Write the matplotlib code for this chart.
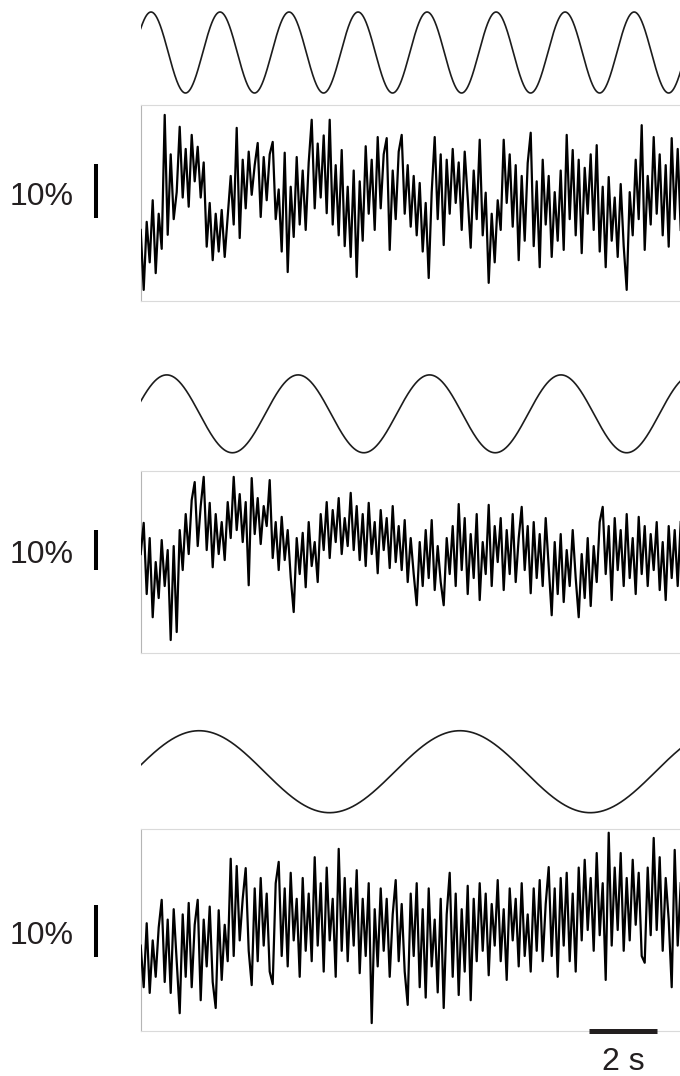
import numpy as np
import matplotlib
matplotlib.use("Agg")
import matplotlib.pyplot as plt

plt.rcParams['font.family'] = ['Liberation Sans', 'DejaVu Sans']

# ---------------- data ----------------
# stimulus sine waves: period (s) and time of first peak (s)
stim_periods = [2.03, 3.865, 7.67]
stim_first_peak = [0.303, 0.765, 1.72]

dt = 3 / 34.0  # spacing of digitised samples (s)

# responses (% change)
trace1 = [-5.0, -16.1, -3.5, -11.0, 0.5, -13.0, -2.0, -8.5, 16.3, -5.9,
          9.0, -3.0, 2.0, 14.1, 1.0, 10.0, -0.7, 12.6, 4.0, 10.4,
          1.0, 7.5, -8.1, 0.0, -10.6, -2.0, -9.0, -1.3, -10.0, -2.5,
          5.0, -4.0, 13.9, -6.5, 8.0, -1.0, 9.5, 1.5, 7.0, 11.1,
          -2.6, 8.5, 0.5, 9.0, 11.3, -3.0, 2.5, -9.0, 9.3, -12.8,
          3.0, -6.3, 8.5, -4.0, 6.0, -5.0, 7.5, 15.4, -1.0, 11.0,
          1.0, 12.5, -1.9, 15.4, -4.0, 7.0, -6.0, 9.8, -8.0, 3.0,
          -10.0, 6.0, -13.7, 4.0, -7.0, 10.5, -2.0, 8.0, -5.0, 12.2,
          -1.0, 9.0, 12.0, -8.7, 6.0, -3.0, 9.5, 12.6, -2.0, 7.0,
          -4.4, 5.0, -6.0, 3.7, -9.0, 0.0, -13.9, 2.0, 12.2, -3.0,
          9.0, -7.8, 8.0, -2.0, 10.0, 0.0, 7.5, -5.0, 9.5, 1.0,
          -8.3, 6.0, -3.0, 11.7, -6.0, 1.9, -14.8, -2.0, -11.0, 0.5,
          -5.0, 11.7, 0.0, 9.0, -4.4, 7.0, -10.6, 5.0, -7.0, 7.4,
          13.0, -8.0, 4.0, -11.9, 8.0, -4.0, 5.0, -10.0, 2.0, -7.0,
          6.0, -8.7, 12.6, -3.0, 9.8, -6.0, 8.0, -9.3, 6.5, -2.0,
          9.0, -5.0, 10.7, -9.0, 3.0, -11.9, 4.8, -7.0, 1.0, -10.0,
          3.5, -8.0, -16.1, 2.0, -6.0, 8.0, -3.0, 14.4, -8.7, 5.0,
          -4.0, 12.2, -2.0, 9.0, -6.0, 7.0, -8.1, 12.0, -3.0, 10.0,
          -5.0]

trace2 = [2.0, 9.8, -8.0, 6.0, -13.8, 0.0, -9.0, 5.5, -6.0, 3.0,
          -19.5, 4.0, -17.5, 8.0, -2.0, 12.0, 2.0, 15.5, 20.0, 4.0,
          14.0, 21.3, 3.0, 14.8, -1.3, 12.0, 2.0, 10.0, 0.5, 15.0,
          6.0, 21.3, 8.0, 17.0, 5.0, 15.0, -5.8, 21.0, 7.0, 16.0,
          4.5, 14.0, 9.0, 20.5, 1.0, 10.0, -2.0, 11.3, 0.5, 8.0,
          -3.8, -12.5, 6.0, -3.0, 7.3, -6.3, 10.0, -1.0, 5.0, -5.0,
          12.0, 3.0, 15.0, 1.0, 13.0, 5.0, 16.0, 2.0, 11.0, 4.0,
          17.3, 3.0, 14.0, 0.5, 12.0, -1.0, 14.8, 2.0, 10.0, -2.8,
          13.0, 3.0, 11.0, -1.5, 14.0, 0.0, 9.0, -2.0, 10.5, -5.0,
          6.0, -3.0, -10.8, 5.0, -6.0, 8.0, -4.0, 10.5, -7.0, 4.0,
          -5.0, -10.8, 6.0, -3.0, 9.0, -6.0, 14.5, -2.0, 11.0, -8.0,
          7.0, -4.0, 12.0, -9.5, 5.0, -3.0, 14.3, -6.0, 9.0, 0.0,
          11.0, -7.0, 8.0, -3.0, 12.0, -5.0, 6.0, 13.8, -2.0, 9.0,
          -7.8, 10.0, -4.0, 7.0, -6.0, 11.0, -1.0, -13.3, 5.0, -8.0,
          7.0, -10.0, 3.0, -6.0, 8.0, -4.0, -13.8, 2.0, -9.0, 6.0,
          -11.0, 4.0, -5.0, 10.0, 13.8, -3.0, 9.0, -9.5, 11.0, -2.0,
          8.0, -6.0, 12.0, -4.0, 6.0, -8.0, 11.3, -3.0, 9.0, -6.0,
          7.0, -2.0, 10.0, -7.0, 5.0, -9.5, 9.0, -4.0, 8.0, -6.0,
          10.0]

trace3 = [-3.0, -11.0, 1.3, -12.1, -2.0, -9.0, 0.5, 5.8, -10.0, 2.0,
          -12.1, 4.0, -6.0, -16.0, 3.0, -9.0, 5.2, -11.0, 1.0, 5.8,
          -13.5, 2.0, -7.0, 4.5, -10.0, -15.0, 3.8, -9.6, 1.0, -6.0,
          13.7, -5.0, 12.3, -2.0, 6.0, 11.9, -4.0, -10.6, 8.0, -6.0,
          10.0, -3.0, 7.0, -8.0, -10.4, 9.0, 13.1, -5.0, 8.0, -7.0,
          11.0, -2.0, 6.0, -9.0, 10.0, -4.0, 7.0, -6.0, 14.0, -3.0,
          9.0, -8.0, 12.0, -2.0, 6.0, -9.0, 15.6, -4.0, 10.0, -6.0,
          8.0, -3.0, 11.5, -8.3, 6.0, -5.0, 9.0, -17.9, 4.0, -7.0,
          8.0, -4.0, 6.0, -9.0, 3.0, 9.6, -6.0, 5.0, -8.0, -14.4,
          7.0, -5.0, 9.0, -11.0, 4.0, -13.0, 8.0, -7.0, 2.0, -12.0,
          6.0, -15.0, 3.0, 11.0, -9.0, 7.0, -12.5, 4.0, -8.0, 8.5,
          -13.5, 6.0, -6.0, 9.0, -4.0, 7.0, -8.7, 5.0, -3.0, 9.6,
          -6.0, 4.0, -9.6, 8.0, -2.0, 6.0, -7.0, 9.0, -5.0, 3.0,
          -8.0, 8.0, -4.0, 9.6, -6.0, 5.0, 12.1, -5.0, 8.0, -9.0,
          10.0, -3.0, 11.0, -6.0, 7.0, -8.0, 12.0, -2.0, 13.5, 0.0,
          10.0, -4.0, 14.8, -1.0, 9.0, -9.6, 18.7, -3.0, 12.0, 0.0,
          14.8, -4.0, 10.0, -2.0, 13.5, 1.0, 11.0, -5.0, -6.3, 12.0,
          -1.0, 17.7, 0.0, 14.0, -4.0, 10.0, 2.0, -11.0, 15.4, -3.0,
          9.0]

traces = [trace1, trace2, trace3]
trace_ylims = [(-18.15, 18.15), (-22.83, 22.83), (-19.42, 19.37)]
scale_pct = 10
scale_s = 2

# ---------------- layout ----------------
W, H = 680, 1076
fig = plt.figure(figsize=(W / 100, H / 100), dpi=100)
fig.patch.set_facecolor('white')

x_left = 140.7 / W
x_width = 559.3 / W
t_max = 559.3 / 34.0

sine_boxes = [(0.9098, 0.0828), (0.5756, 0.0796), (0.2409, 0.0838)]
trace_boxes = [(0.7203, 0.1822), (0.3928, 0.1697), (0.04182, 0.1875)]
bar_bottoms = [-2.8, -2.0, -5.2]
label_baselines = [-0.37, -0.25, -2.7]

t_stim = np.linspace(0, t_max, 2000)
for k in range(3):
    # stimulus
    b, h = sine_boxes[k]
    ax = fig.add_axes([x_left, b, x_width, h])
    ax.plot(t_stim, np.cos(2 * np.pi * (t_stim - stim_first_peak[k]) / stim_periods[k]),
            color='#1c1c1c', lw=1.2)
    ax.set_xlim(0, t_max)
    ax.set_ylim(-1.1, 1.1)
    ax.axis('off')

    # response
    b, h = trace_boxes[k]
    ax = fig.add_axes([x_left, b, x_width, h])
    y = np.asarray(traces[k])
    t = np.arange(len(y)) * dt
    ax.plot(t, y, color='black', lw=1.6, zorder=3)
    ax.set_xlim(0, t_max)
    ax.set_ylim(*trace_ylims[k])
    ax.set_xticks([])
    ax.set_yticks([])
    for s in ['top', 'bottom', 'right']:
        ax.spines[s].set_color('#dadada')
        ax.spines[s].set_linewidth(0.8)
    ax.spines['left'].set_color('#b5b5b5')
    ax.spines['left'].set_linewidth(0.8)

    # 10% scale bar
    yb = bar_bottoms[k]
    ax.plot([-1.306, -1.306], [yb, yb + scale_pct], color='black', lw=2.9,
            solid_capstyle='butt', clip_on=False)
    ax.text(-1.96, label_baselines[k], f'{scale_pct}%', ha='right', va='baseline',
            fontsize=23, color='#231f20')

    if k == 2:
        ax.plot([13.19, 13.19 + scale_s], [-19.5, -19.5], color='#231f20', lw=3.6,
                solid_capstyle='butt', clip_on=False, zorder=6)
        ax.text(13.19 + scale_s / 2, -27.0, f'{scale_s} s', ha='center', va='baseline',
                fontsize=23, color='#231f20')

fig.savefig('out.png', dpi=100, facecolor='white')
